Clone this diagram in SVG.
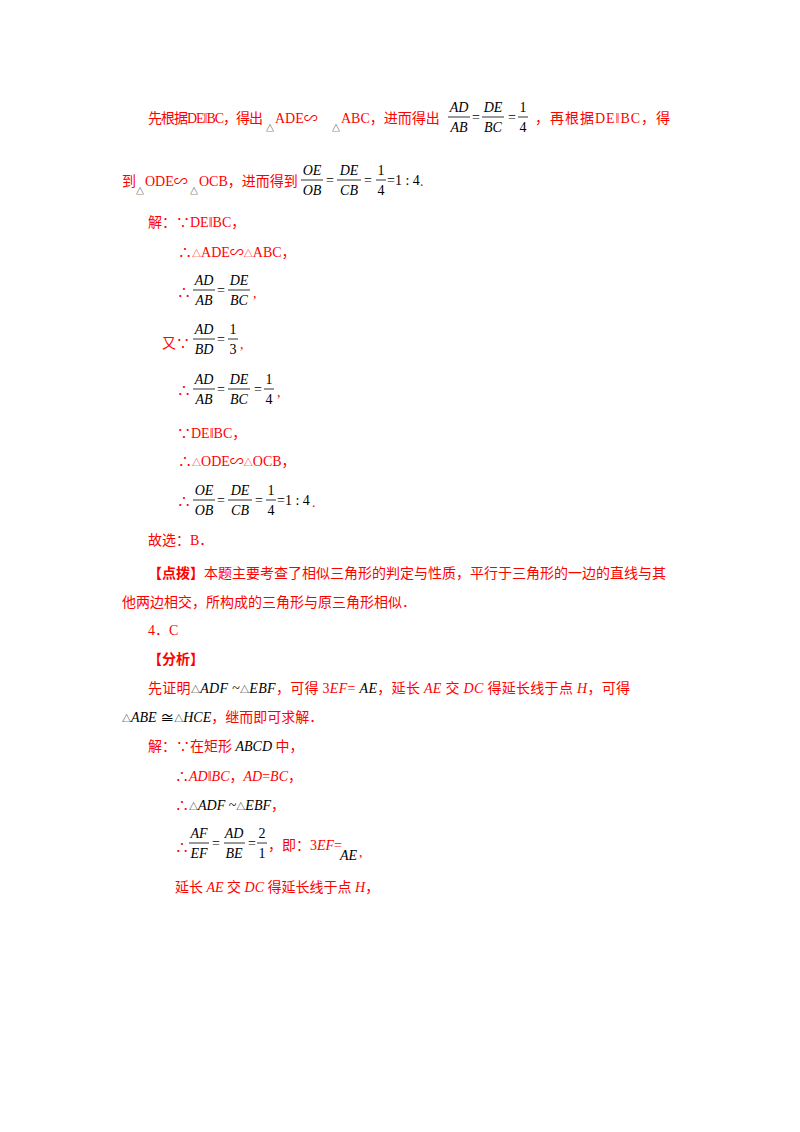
<svg xmlns="http://www.w3.org/2000/svg" width="800" height="1132" viewBox="0 0 800 1132">
<style>
text{font-family:"Liberation Serif","Noto Sans CJK SC",serif;font-size:14px}
.r{fill:#ff0000}
.k{fill:#000}
.m{fill:#000;font-style:italic;font-size:14px}
.s{font-size:8px;fill:#000}
.c{text-anchor:middle}
line{stroke:#000;stroke-width:0.8}
</style>
<rect width="800" height="1132" fill="#fff"/>
<!-- line 1 -->
<text class="r" x="148" y="123" textLength="115" lengthAdjust="spacing">先根据DE‖BC，得出</text>
<text class="s" x="266" y="131">△</text>
<text class="r" x="275" y="123">ADE∽</text>
<text class="s" x="332" y="131">△</text>
<text class="r" x="341" y="123">ABC，进而得出</text>
<text class="m c" x="459" y="112">AD</text><line x1="448" y1="117" x2="470" y2="117"/><text class="m c" x="459" y="132">AB</text>
<text class="k" x="472" y="122">=</text>
<text class="m c" x="493" y="112">DE</text><line x1="482" y1="117" x2="504" y2="117"/><text class="m c" x="493" y="132">BC</text>
<text class="k" x="508" y="122">=</text>
<text class="k c" x="523" y="112">1</text><line x1="518" y1="117" x2="528" y2="117"/><text class="k c" x="523" y="132">4</text>
<text class="r" x="535" y="123" textLength="135" lengthAdjust="spacing">，再根据DE‖BC，得</text>
<!-- line 2 -->
<text class="r" x="122" y="186">到</text>
<text class="s" x="136" y="194">△</text>
<text class="r" x="145" y="186">ODE∽</text>
<text class="s" x="190" y="194">△</text>
<text class="r" x="199" y="186">OCB，进而得到</text>
<text class="m c" x="312" y="175">OE</text><line x1="301" y1="180" x2="323" y2="180"/><text class="m c" x="312" y="195">OB</text>
<text class="k" x="326" y="185">=</text>
<text class="m c" x="349" y="175">DE</text><line x1="337" y1="180" x2="361" y2="180"/><text class="m c" x="349" y="195">CB</text>
<text class="k" x="364" y="185">=</text>
<text class="k c" x="381" y="175">1</text><line x1="376" y1="180" x2="386" y2="180"/><text class="k c" x="381" y="195">4</text>
<text class="k" x="387" y="185">=1 : 4</text>
<text class="r" x="420" y="186">.</text>
<!-- solution -->
<text class="r" x="148" y="227">解：∵DE‖BC，</text>
<text class="r" x="178" y="257">∴<tspan font-size="9">△</tspan>ADE∽<tspan font-size="9">△</tspan>ABC，</text>
<text class="r" x="177" y="297">∴</text>
<text class="m c" x="204" y="285">AD</text><line x1="193" y1="290" x2="215" y2="290"/><text class="m c" x="204" y="305">AB</text>
<text class="k" x="217" y="295">=</text>
<text class="m c" x="239" y="285">DE</text><line x1="228" y1="290" x2="250" y2="290"/><text class="m c" x="239" y="305">BC</text>
<text class="r" x="253" y="298">,</text>
<text class="r" x="162" y="348">又∵</text>
<text class="m c" x="204" y="334">AD</text><line x1="193" y1="339" x2="215" y2="339"/><text class="m c" x="204" y="354">BD</text>
<text class="k" x="217" y="344">=</text>
<text class="k c" x="233" y="334">1</text><line x1="228" y1="339" x2="238" y2="339"/><text class="k c" x="233" y="354">3</text>
<text class="r" x="240" y="349">,</text>
<text class="r" x="177" y="395">∴</text>
<text class="m c" x="204" y="384">AD</text><line x1="193" y1="389" x2="215" y2="389"/><text class="m c" x="204" y="404">AB</text>
<text class="k" x="217" y="394">=</text>
<text class="m c" x="239" y="384">DE</text><line x1="228" y1="389" x2="250" y2="389"/><text class="m c" x="239" y="404">BC</text>
<text class="k" x="254" y="394">=</text>
<text class="k c" x="269" y="384">1</text><line x1="264" y1="389" x2="274" y2="389"/><text class="k c" x="269" y="404">4</text>
<text class="r" x="277" y="397">,</text>
<text class="r" x="177" y="438">∵DE‖BC，</text>
<text class="r" x="178" y="466">∴<tspan font-size="9">△</tspan>ODE∽<tspan font-size="9">△</tspan>OCB，</text>
<text class="r" x="177" y="506">∴</text>
<text class="m c" x="204" y="495">OE</text><line x1="193" y1="500" x2="215" y2="500"/><text class="m c" x="204" y="515">OB</text>
<text class="k" x="217" y="505">=</text>
<text class="m c" x="240" y="495">DE</text><line x1="228" y1="500" x2="252" y2="500"/><text class="m c" x="240" y="515">CB</text>
<text class="k" x="255" y="505">=</text>
<text class="k c" x="271" y="495">1</text><line x1="266" y1="500" x2="276" y2="500"/><text class="k c" x="271" y="515">4</text>
<text class="k" x="277" y="505">=1 : 4</text>
<text class="r" x="312" y="507">.</text>
<text class="r" x="148" y="545">故选：B．</text>
<text class="r" x="148" y="578"><tspan font-weight="bold">【点拨】</tspan>本题主要考查了相似三角形的判定与性质，平行于三角形的一边的直线与其</text>
<text class="r" x="122" y="607">他两边相交，所构成的三角形与原三角形相似．</text>
<text class="r" x="148" y="635">4．C</text>
<text class="r" x="148" y="664" font-weight="bold">【分析】</text>
<text class="r" x="148" y="693" textLength="482" lengthAdjust="spacing">先证明<tspan class="k" font-size="9">△</tspan><tspan class="m">ADF</tspan> <tspan class="k">~</tspan><tspan class="k" font-size="9">△</tspan><tspan class="m">EBF</tspan>，可得 3<tspan font-style="italic">EF</tspan>= <tspan class="m">AE</tspan>，延长 <tspan font-style="italic">AE</tspan> 交 <tspan font-style="italic">DC</tspan> 得延长线于点 <tspan font-style="italic">H</tspan>，可得</text>
<text class="r" x="122" y="722"><tspan class="k" font-size="9">△</tspan><tspan class="m">ABE</tspan> <tspan class="k">≅</tspan><tspan class="k" font-size="9">△</tspan><tspan class="m">HCE</tspan>，继而即可求解．</text>
<text class="r" x="148" y="751">解：∵在矩形 <tspan class="m">ABCD</tspan> 中，</text>
<text class="r" x="175" y="781">∴<tspan font-style="italic">AD</tspan>‖<tspan font-style="italic">BC</tspan>，<tspan font-style="italic">AD</tspan>=<tspan font-style="italic">BC</tspan>，</text>
<text class="r" x="175" y="810">∴<tspan class="k" font-size="9">△</tspan><tspan class="m">ADF</tspan> <tspan class="k">~</tspan><tspan class="k" font-size="9">△</tspan><tspan class="m">EBF</tspan>，</text>
<text class="r" x="175" y="852">∴</text>
<text class="m c" x="199" y="838">AF</text><line x1="189" y1="843" x2="209" y2="843"/><text class="m c" x="199" y="858">EF</text>
<text class="k" x="212" y="848">=</text>
<text class="m c" x="234" y="838">AD</text><line x1="224" y1="843" x2="245" y2="843"/><text class="m c" x="234" y="858">BE</text>
<text class="k" x="248" y="848">=</text>
<text class="k c" x="262" y="838">2</text><line x1="257" y1="843" x2="267" y2="843"/><text class="k c" x="262" y="858">1</text>
<text class="r" x="268" y="850">，即：3<tspan font-style="italic">EF</tspan>=</text>
<text class="m" x="340" y="860">AE</text>
<text class="r" x="359" y="857">,</text>
<text class="r" x="175" y="892">延长 <tspan font-style="italic">AE</tspan> 交 <tspan font-style="italic">DC</tspan> 得延长线于点 <tspan font-style="italic">H</tspan>，</text>
</svg>
